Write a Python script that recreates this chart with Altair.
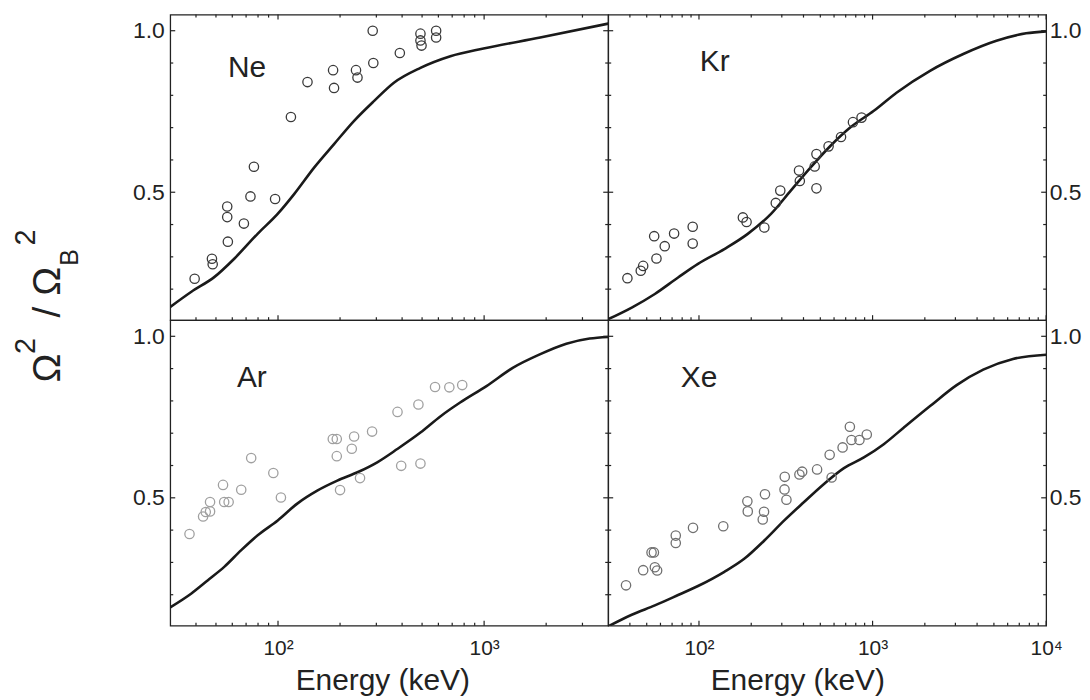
import altair as alt
import pandas as pd

# ---------------- data ----------------
ne_E = [39.4, 47.8, 48.2, 56.7, 56.7, 57.1, 68.3, 73.5, 76.4, 96.8, 115.5, 139, 185, 187, 239, 243, 288, 290, 390, 491, 491, 497, 585, 585]
ne_R = [0.232, 0.294, 0.277, 0.456, 0.423, 0.347, 0.403, 0.487, 0.579, 0.479, 0.733, 0.841, 0.878, 0.823, 0.878, 0.855, 1.0, 0.900, 0.931, 0.991, 0.970, 0.954, 1.0, 0.979]
ne_cE = [30, 38, 49.2, 61.5, 79.8, 99.6, 120, 150, 187, 234, 292, 365, 491, 686, 993, 1871, 4000]
ne_cR = [0.145, 0.192, 0.238, 0.295, 0.372, 0.433, 0.495, 0.577, 0.649, 0.721, 0.782, 0.839, 0.885, 0.921, 0.945, 0.979, 1.022]

kr_E = [38.7, 46.2, 47.7, 56.9, 55.2, 63.5, 71.9, 92, 92, 179, 188, 238, 277, 294, 377, 381, 464, 475, 475, 558, 658, 771, 864]
kr_R = [0.234, 0.257, 0.272, 0.295, 0.364, 0.333, 0.372, 0.393, 0.341, 0.422, 0.408, 0.391, 0.467, 0.505, 0.567, 0.535, 0.580, 0.618, 0.512, 0.642, 0.671, 0.717, 0.731]
kr_cE = [30, 41, 55.7, 75.8, 98.7, 140, 191, 260, 338, 440, 573, 746, 1017, 1380, 2143, 3330, 5170, 7670, 10000]
kr_cR = [0.107, 0.143, 0.185, 0.236, 0.278, 0.324, 0.371, 0.433, 0.505, 0.577, 0.644, 0.701, 0.752, 0.809, 0.876, 0.928, 0.969, 0.992, 0.998]

ar_E = [37.2, 43.3, 44.6, 46.8, 46.8, 54.1, 54.8, 57.6, 66.3, 74.1, 94.9, 103.3, 184.4, 192.8, 192.8, 200, 228, 234, 250, 286, 380, 396, 480, 491, 578, 678, 783]
ar_R = [0.388, 0.442, 0.456, 0.458, 0.487, 0.540, 0.487, 0.487, 0.525, 0.623, 0.577, 0.501, 0.682, 0.682, 0.629, 0.524, 0.652, 0.690, 0.561, 0.705, 0.766, 0.599, 0.789, 0.606, 0.843, 0.842, 0.849]
ar_cE = [30, 38, 45.7, 55, 66.3, 79.7, 99.7, 124, 155, 194, 243, 303, 379, 491, 613, 765, 1027, 1383, 1862, 2506, 3250, 4000]
ar_cR = [0.161, 0.204, 0.245, 0.287, 0.338, 0.384, 0.430, 0.482, 0.522, 0.553, 0.579, 0.610, 0.651, 0.702, 0.752, 0.795, 0.846, 0.903, 0.944, 0.977, 0.993, 0.998]

xe_E = [38, 47.7, 53.3, 55, 55.7, 57.4, 73.5, 73.5, 92.4, 138, 190, 191, 233, 237, 240, 312, 311, 319, 379, 393, 479, 581, 566, 672, 740, 756, 840, 926]
xe_R = [0.229, 0.276, 0.331, 0.331, 0.285, 0.275, 0.383, 0.360, 0.407, 0.412, 0.489, 0.458, 0.433, 0.457, 0.511, 0.565, 0.526, 0.494, 0.572, 0.581, 0.588, 0.563, 0.633, 0.656, 0.720, 0.679, 0.679, 0.696]
xe_cE = [30, 41, 55.7, 75.8, 98.7, 140, 183, 238, 310, 403, 525, 684, 891, 1160, 1510, 2145, 3050, 4340, 6440, 10000]
xe_cR = [0.102, 0.138, 0.167, 0.199, 0.227, 0.271, 0.312, 0.368, 0.430, 0.487, 0.543, 0.592, 0.625, 0.666, 0.717, 0.784, 0.849, 0.897, 0.930, 0.943]

x_dom_left = [30, 4000]
x_dom_right = [30, 10000]
y_dom = [0.104, 1.05]
x_major_left = [100, 1000]
x_minor_left = [40, 50, 60, 70, 80, 90, 200, 300, 400, 500, 600, 700, 800, 900, 2000, 3000]
x_major_right = [100, 1000, 10000]
x_minor_right = x_minor_left + [4000, 5000, 6000, 7000, 8000, 9000]
y_major = [0.5, 1.0]
y_minor = [0.2, 0.3, 0.4, 0.6, 0.7, 0.8, 0.9]
x_title = "Energy (keV)"

FONT = "Liberation Sans, Arial, sans-serif"
INK = "#222222"
PW, PH = 440, 307
MAJ, MIN = 5, 3


def text_layer(txt, x, y, size, angle=0, align="left"):
    return alt.Chart(pd.DataFrame({"a": [0]})).mark_text(
        text=txt, font=FONT, fontSize=size, color=INK, angle=angle, align=align,
        baseline="alphabetic").encode(x=alt.value(x), y=alt.value(y))


def panel(name, E, R, cE, cR, color, right, bottom, lab_xy, title_x=213, extra=None):
    xdom = x_dom_right if right else x_dom_left
    xmaj = x_major_right if right else x_major_left
    xmin = x_minor_right if right else x_minor_left
    xs = alt.Scale(type="log", domain=xdom, nice=False)
    ys = alt.Scale(domain=y_dom, nice=False, zero=False)
    if bottom:
        xax = alt.Axis(orient="bottom", values=xmaj, ticks=False, domain=False, grid=False,
                       labelFlush=False, labelOverlap=False,
                       labelFont=FONT, labelFontSize=21, labelColor=INK, labelPadding=12,
                       labelExpr="datum.value == 100 ? '10²' : datum.value == 1000 ? '10³' : '10⁴'",
                       title=x_title, titleFont=FONT, titleFontSize=30, titleFontWeight="normal",
                       titleColor=INK, titleBaseline="alphabetic", titleAlign="center",
                       titleX=title_x, titleY=64)
    else:
        xax = None
    yax = alt.Axis(orient="right" if right else "left", values=y_major, ticks=False,
                   domain=False, grid=False, title=None, format=".1f", labelFlush=False,
                   labelFont=FONT, labelFontSize=23, labelColor=INK,
                   labelPadding=3 if right else 6)

    def X(field="E"):
        return alt.X(field + ":Q", scale=xs, axis=xax)

    def Y(field="R"):
        return alt.Y(field + ":Q", scale=ys, axis=yax)

    def xticks(vals, y0, y1):
        return alt.Chart(pd.DataFrame({"E": vals})).mark_rule(color=INK, strokeWidth=1.2).encode(
            x=X(), y=alt.value(y0), y2=alt.value(y1))

    def yticks(vals, x0, x1):
        return alt.Chart(pd.DataFrame({"R": vals})).mark_rule(color=INK, strokeWidth=1.2).encode(
            y=Y(), x=alt.value(x0), x2=alt.value(x1))

    cdf = pd.DataFrame({"E": cE, "R": cR})
    pdf = pd.DataFrame({"E": E, "R": R})
    line = alt.Chart(cdf).mark_line(clip=True, interpolate="monotone", color="#1a1a1a",
                                    strokeWidth=2.6).encode(x=X(), y=Y())
    pts = alt.Chart(pdf).mark_point(shape="circle", filled=False, size=88, strokeWidth=1.3,
                                    color=color, opacity=1).encode(x=X(), y=Y())
    layers = [line, pts,
              xticks(xmaj, PH, PH - MAJ), xticks(xmin, PH, PH - MIN),
              yticks(y_major, 0, MAJ), yticks(y_minor, 0, MIN),
              yticks(y_major, PW, PW - MAJ), yticks(y_minor, PW, PW - MIN)]
    if not bottom:
        layers += [xticks(xmaj, 0, MAJ), xticks(xmin, 0, MIN)]
    layers.append(text_layer(name, lab_xy[0], lab_xy[1], 30))
    if extra:
        layers.extend(extra)
    return alt.layer(*layers).properties(width=PW, height=PH)


# y-axis title pieces: Omega^2 / Omega_B^2 (rotated)
ytitle = [
    text_layer("Ω", -111, 355, 39, angle=270, align="center"),
    text_layer("2", -136, 333, 29, angle=270, align="center"),
    text_layer("/", -111, 299, 39, angle=270, align="center"),
    text_layer("Ω", -111, 268, 39, angle=270, align="center"),
    text_layer("B", -93, 244, 25, angle=270, align="center"),
    text_layer("2", -136, 224, 29, angle=270, align="center"),
]

ne = panel("Ne", ne_E, ne_R, ne_cE, ne_cR, "#3a3a3a", False, False, (58, 63), extra=ytitle)
kr = panel("Kr", kr_E, kr_R, kr_cE, kr_cR, "#3a3a3a", True, False, (92, 57))
ar = panel("Ar", ar_E, ar_R, ar_cE, ar_cR, "#a0a0a0", False, True, (67, 67), title_x=213)
xe = panel("Xe", xe_E, xe_R, xe_cE, xe_cR, "#707070", True, True, (73, 67), title_x=190)

chart = alt.concat(ne, kr, ar, xe, columns=2, spacing=0, bounds="flush").properties(
    padding={"left": 3, "top": 3, "right": 0, "bottom": 0}
).configure_view(stroke=INK, strokeWidth=1.3)

chart.save("out.html", embed_options={"renderer": "svg", "actions": False})
